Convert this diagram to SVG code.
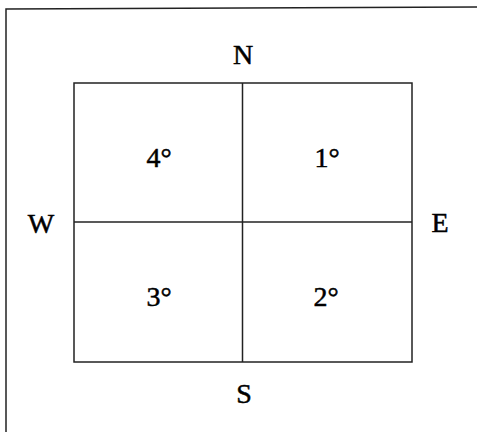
<svg xmlns="http://www.w3.org/2000/svg" width="477" height="432" viewBox="0 0 477 432">
<style>
.ln{stroke:#222;stroke-width:1.5;fill:none}
.t{font-family:"Liberation Serif","Times New Roman",serif;font-size:28px;fill:#000;stroke:#000;stroke-width:0.5;text-anchor:middle}
.d{font-size:22px}
</style>
<rect width="477" height="432" fill="#fff"/>
<g id="frame">
<path class="ln" d="M6,432 L6,9 L477,7"/>
</g>
<g id="quadrants">
<rect class="ln" x="74" y="83" width="338" height="279"/>
</g>
<g id="connectors">
<line class="ln" x1="242.5" y1="83" x2="242.5" y2="362"/>
<line class="ln" x1="74" y1="222" x2="412" y2="222"/>
</g>
<g id="labels">
<text class="t" x="243" y="64">N</text>
<text class="t" x="244" y="403">S</text>
<text class="t" x="41" y="233">W</text>
<text class="t" x="440" y="232">E</text>
<text class="t" x="159" y="167">4°</text>
<text class="t" x="327" y="167">1°</text>
<text class="t" x="159" y="306">3°</text>
<text class="t" x="326" y="306">2°</text>
</g>
</svg>
